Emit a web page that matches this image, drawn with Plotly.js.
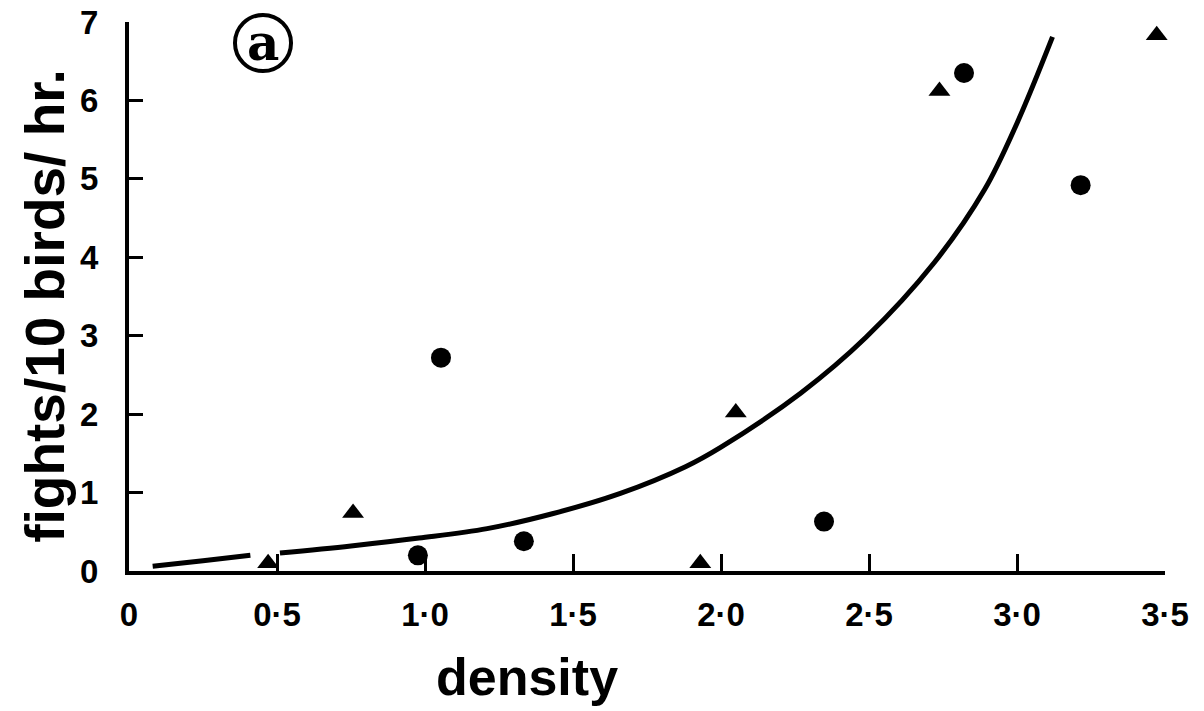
<!DOCTYPE html>
<html>
<head>
<meta charset="utf-8">
<script src="https://cdn.plot.ly/plotly-3.0.1.min.js"></script>
<style>html,body{margin:0;padding:0;background:#fff;}#chart{width:1204px;height:711px;}</style>
</head>
<body>
<div id="chart"></div>
<script>
// Circles (one group of observations)
const circleDensity = [0.976, 1.054, 1.334, 2.348, 2.821, 3.215];
const circleFights  = [0.20, 2.72, 0.38, 0.63, 6.35, 4.92];
// Triangles (other group of observations)
const triangleDensity = [0.47, 0.757, 1.93, 2.05, 2.738, 3.472];
const triangleFights  = [0.10, 0.74, 0.10, 2.02, 6.12, 6.83];
// Fitted curve (null = gap in the drawn line)
const curveDensity = [0.08, 0.25, 0.41, null, 0.51, 0.75, 0.98, 1.21, 1.43, 1.66, 1.88, 2.0, 2.27, 2.49, 2.72, 2.89, 3.0, 3.12];
const curveFights  = [0.06, 0.13, 0.20, null, 0.23, 0.32, 0.42, 0.54, 0.73, 0.99, 1.33, 1.58, 2.27, 2.98, 3.93, 4.86, 5.71, 6.81];
// Axis ticks
const xTickVals = [0, 0.5, 1.0, 1.5, 2.0, 2.5, 3.0, 3.5];
const xTickText = ['0', '0·5', '1·0', '1·5', '2·0', '2·5', '3·0', '3·5'];
const yTickVals = [0, 1, 2, 3, 4, 5, 6, 7];
const yTickText = ['0', '1', '2', '3', '4', '5', '6', '7'];

const tickFont = {family: '"Liberation Sans", Arial, Helvetica, sans-serif', size: 33, color: '#000', weight: 700};
const titleFamily = '"Liberation Sans", Arial, Helvetica, sans-serif';

const traces = [
  {x: curveDensity, y: curveFights, mode: 'lines', type: 'scatter',
   line: {color: '#000', width: 5, shape: 'spline', smoothing: 1}, connectgaps: false, hoverinfo: 'skip', cliponaxis: false},
  {x: circleDensity, y: circleFights, mode: 'markers', type: 'scatter',
   marker: {symbol: 'circle', size: 20, color: '#000'}, cliponaxis: false},
  {x: triangleDensity, y: triangleFights, mode: 'markers', type: 'scatter',
   marker: {symbol: 'triangle-up', size: 19, color: '#000'}, cliponaxis: false}
];

const layout = {
  width: 1204, height: 711,
  margin: {l: 129, r: 39, t: 22, b: 140},
  paper_bgcolor: '#fff', plot_bgcolor: '#fff',
  showlegend: false,
  xaxis: {
    range: [0, 3.5], showgrid: false, zeroline: false,
    showline: true, linecolor: '#000', linewidth: 4,
    ticks: 'inside', ticklen: 17, tickwidth: 3, tickcolor: '#000',
    tickvals: xTickVals, ticktext: xTickText, tickfont: tickFont,
    ticklabelstandoff: 11
  },
  yaxis: {
    range: [0, 7], showgrid: false, zeroline: false,
    showline: true, linecolor: '#000', linewidth: 4,
    ticks: 'inside', ticklen: 14, tickwidth: 3, tickcolor: '#000',
    tickvals: yTickVals, ticktext: yTickText, tickfont: tickFont,
    ticklabelstandoff: 20
  },
  annotations: [
    {text: 'fights/10 birds/ hr.', xref: 'paper', yref: 'paper', x: -0.0811, y: 0.483,
     xanchor: 'center', yanchor: 'middle', textangle: -90, showarrow: false,
     font: {family: titleFamily, size: 55, color: '#000', weight: 700}},
    {text: 'density', xref: 'paper', yref: 'paper', x: 0.384, y: -0.193,
     xanchor: 'center', yanchor: 'middle', showarrow: false,
     font: {family: titleFamily, size: 52, color: '#000', weight: 700}},
    {text: 'a', xref: 'paper', yref: 'paper', x: 0.1293, y: 0.963,
     xanchor: 'center', yanchor: 'middle', showarrow: false,
     font: {family: '"DejaVu Serif", serif', size: 50, color: '#000', weight: 700}}
  ],
  shapes: [
    {type: 'circle', xref: 'paper', yref: 'paper', x0: 0.1023, x1: 0.1564, y0: 0.9107, y1: 1.0128,
     line: {color: '#000', width: 4}}
  ]
};

Plotly.newPlot('chart', traces, layout, {displayModeBar: false, staticPlot: true});
</script>
</body>
</html>
